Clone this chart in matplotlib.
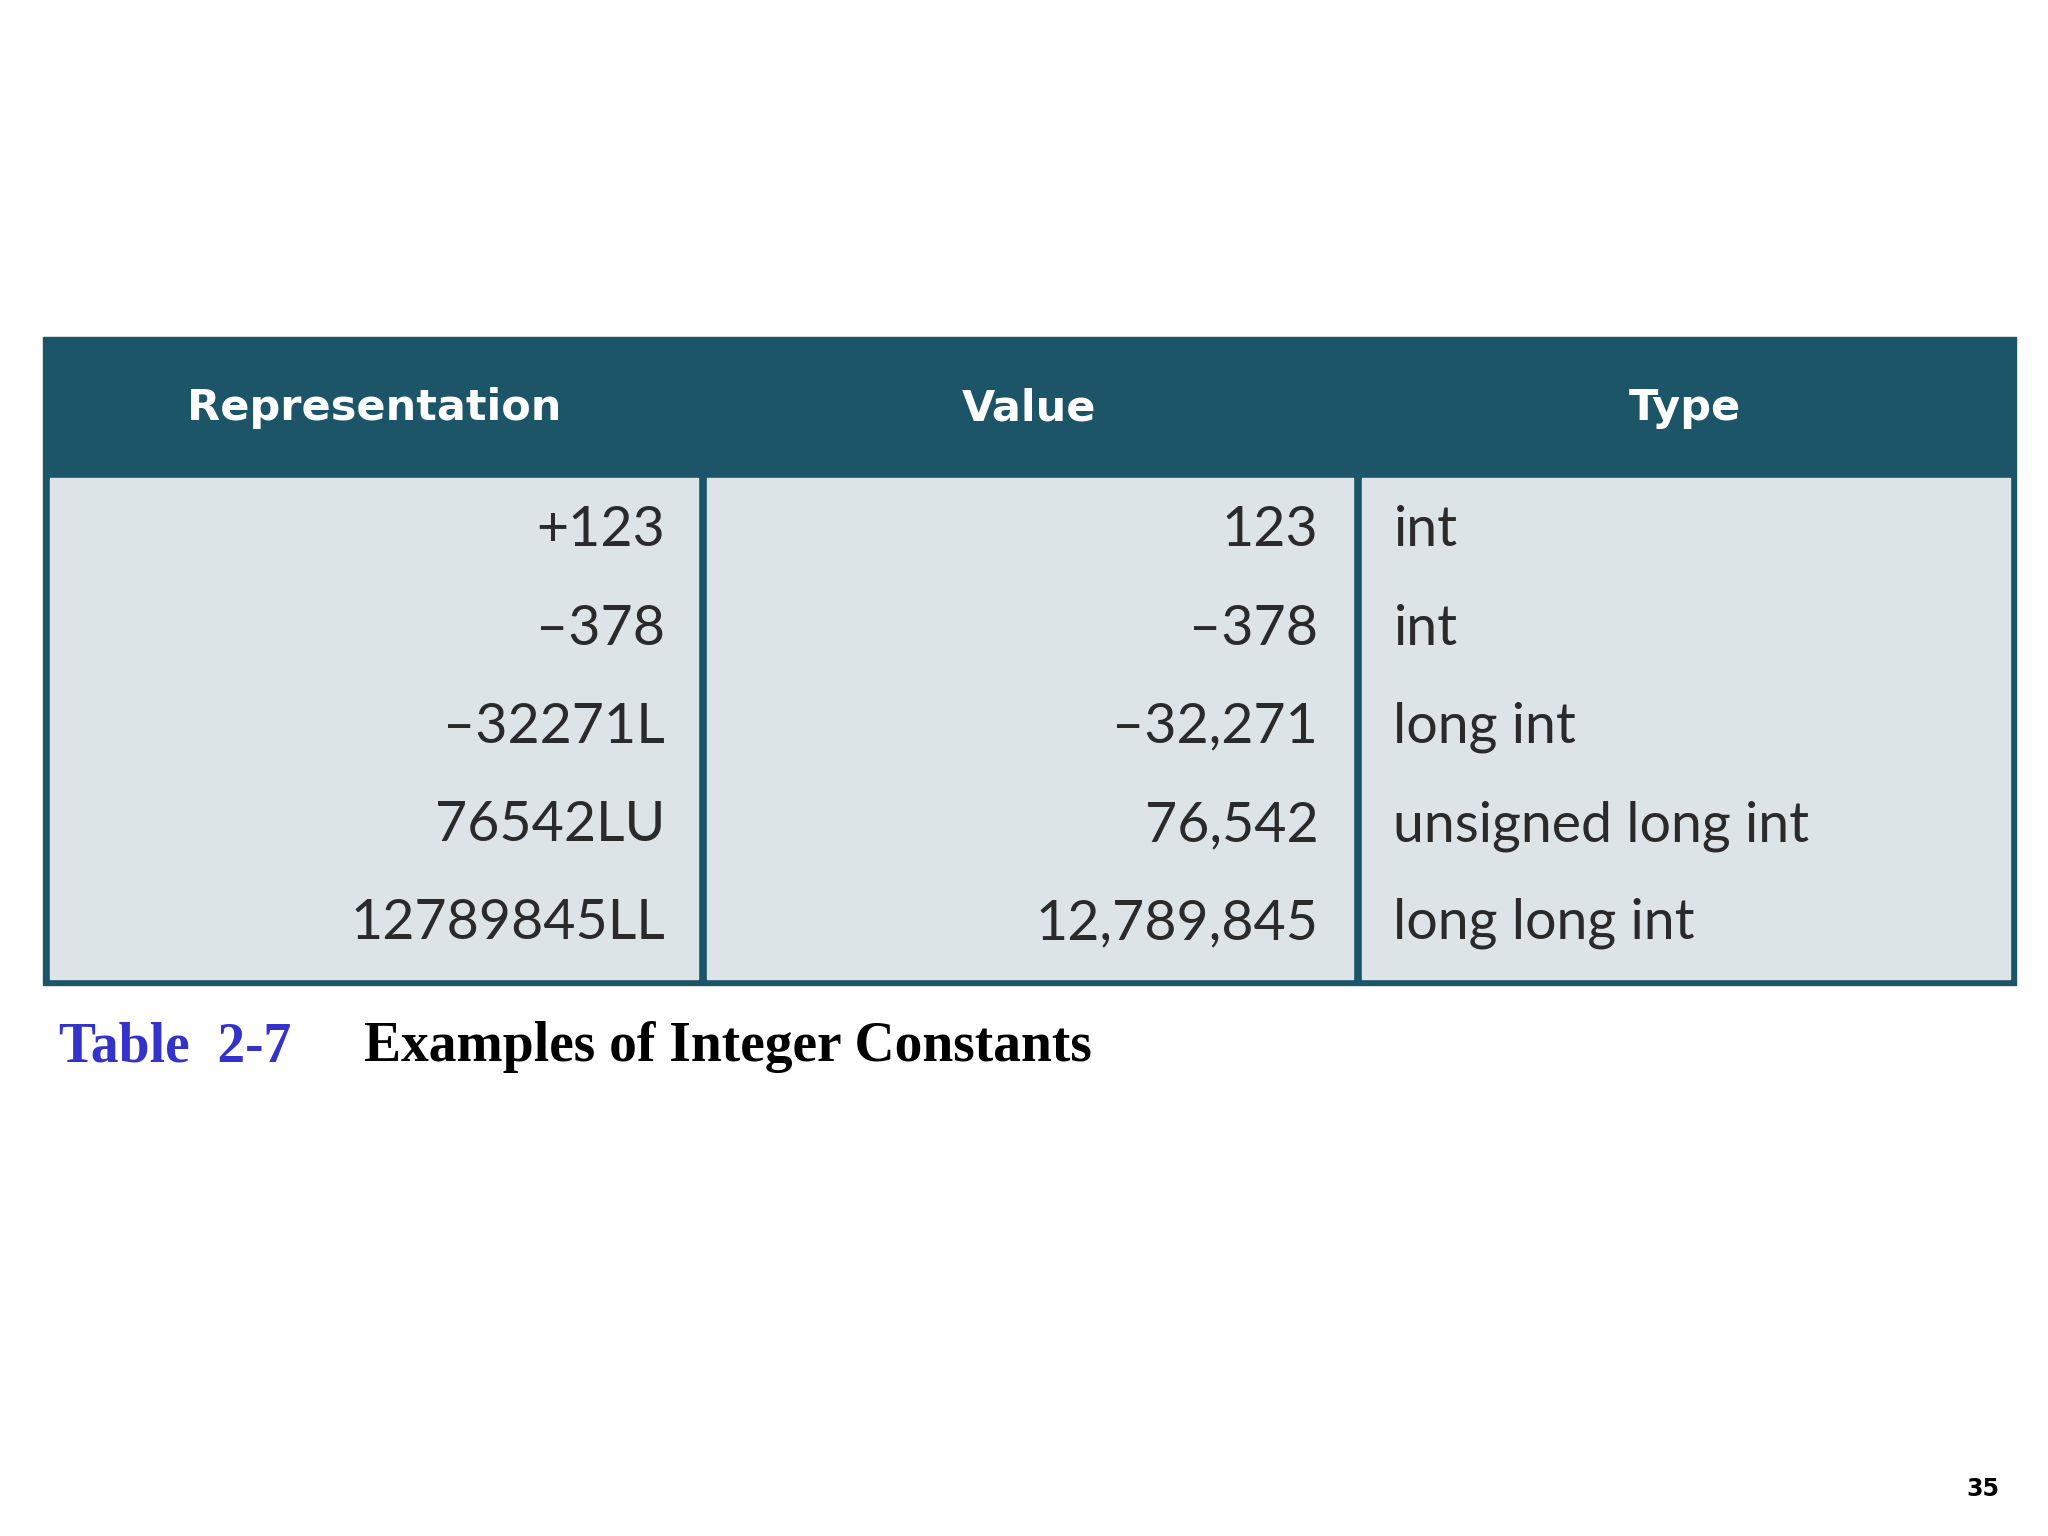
import matplotlib
matplotlib.use("Agg")
import matplotlib.pyplot as plt
from matplotlib.patches import Rectangle

headers = ["Representation", "Value", "Type"]
representation = ["+123", "\u2013378", "\u201332271L", "76542LU", "12789845LL"]
values = ["123", "\u2013378", "\u201332,271", "76,542", "12,789,845"]
types = ["int", "int", "long int", "unsigned long int", "long long int"]

W, H = 1555, 1166
fig = plt.figure(figsize=(20.48, 15.36), dpi=100)
ax = fig.add_axes([0, 0, 1, 1])
ax.set_xlim(0, W); ax.set_ylim(H, 0); ax.axis("off")

dark = "#1c5567"; light = "#dde4e8"
ax.add_patch(Rectangle((33, 256), 1498, 492, color=dark))
cols = [(38, 530), (537, 1027), (1034, 1526)]
for x0, x1 in cols:
    ax.add_patch(Rectangle((x0, 363), x1 - x0, 380, color=light))

hx = [284, 781, 1279]
for h, x in zip(headers, hx):
    ax.text(x, 310, h, color="white", fontsize=31, fontweight="bold",
            family=["DejaVu Sans"], ha="center", va="center")

rows_y = [403, 478, 552, 627, 701]
bf = dict(fontsize=40, color="#2a2a2a", family=["Lato", "DejaVu Sans"], va="center")
for y, r, v, t in zip(rows_y, representation, values, types):
    ax.text(505, y, r, ha="right", **bf)
    ax.text(1001, y, v, ha="right", **bf)
    ax.text(1058, y, t, ha="left", **bf)

ax.text(45, 795, "Table  2-7", color="#3333cc", fontsize=40, fontweight="bold",
        family="Liberation Serif", va="center")
ax.text(276, 795, "Examples of Integer Constants", color="black", fontsize=40,
        fontweight="bold", family="Liberation Serif", va="center")
ax.text(1518, 1130, "35", fontsize=17, fontweight="bold", ha="right", va="center")

fig.savefig("out.png", dpi=100, facecolor="white")
